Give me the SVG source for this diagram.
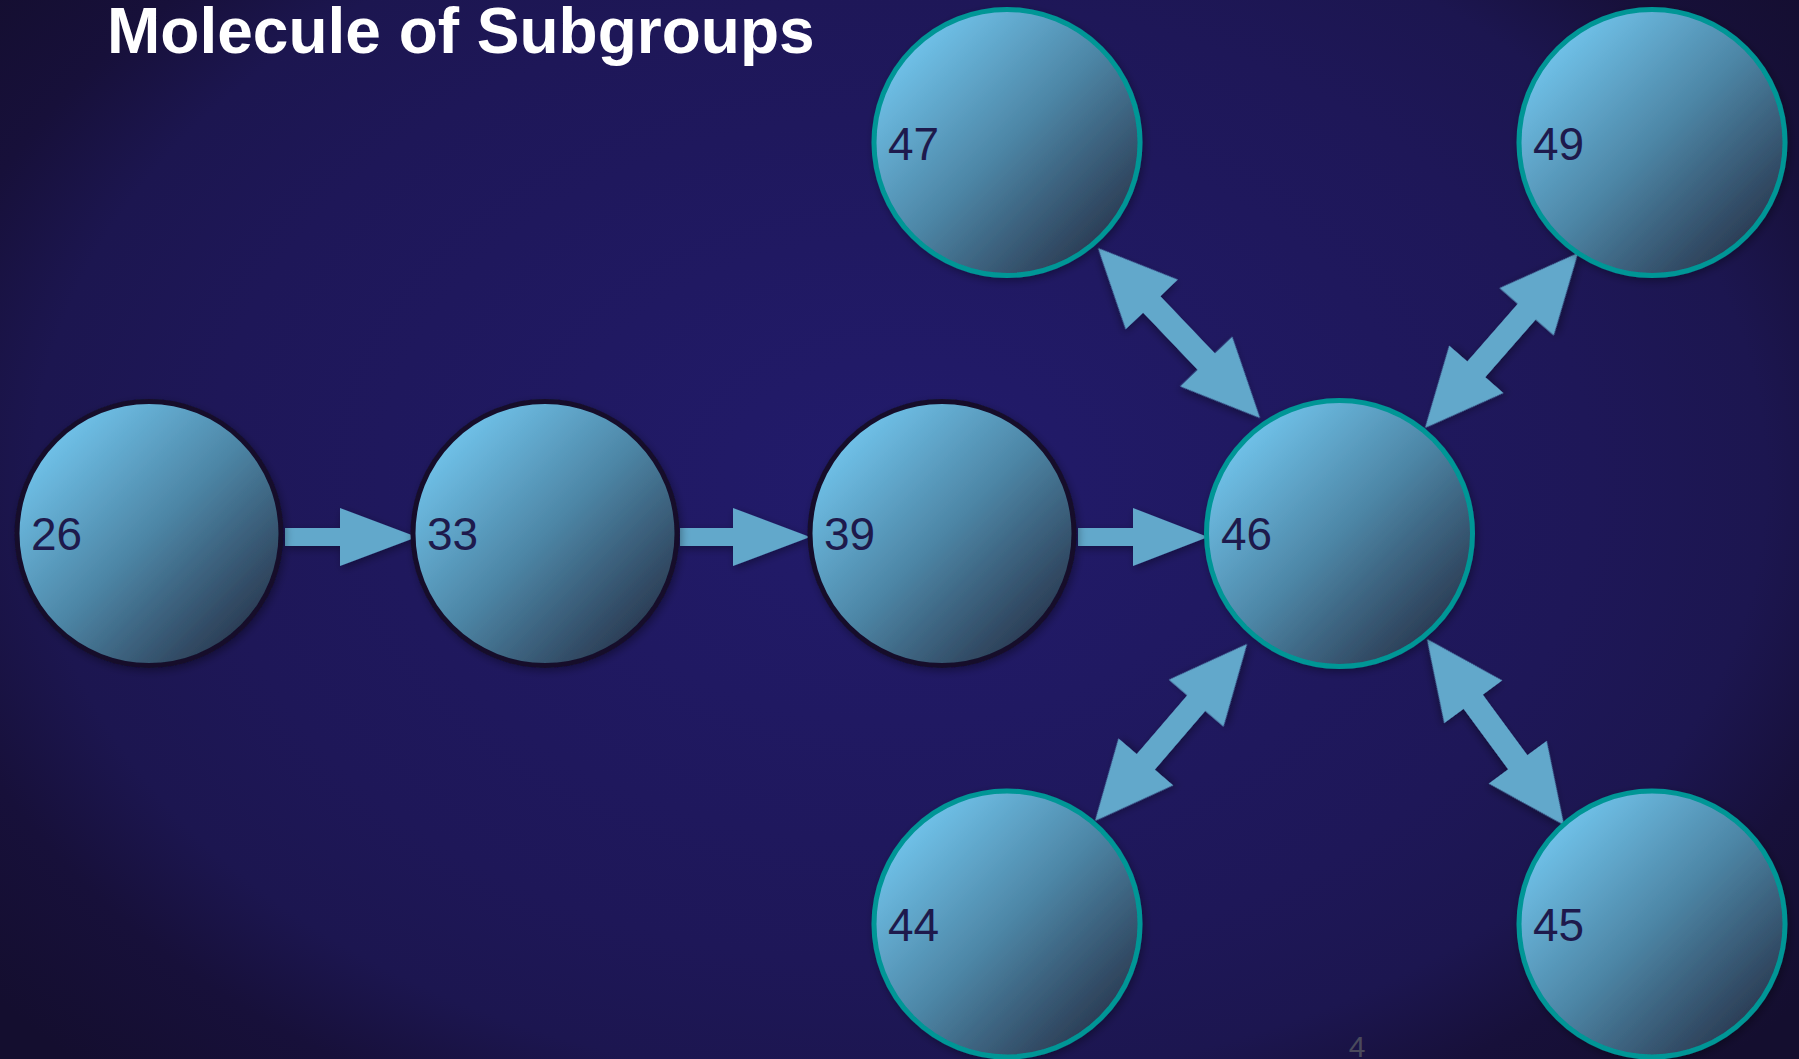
<svg xmlns="http://www.w3.org/2000/svg" width="1799" height="1059" viewBox="0 0 1799 1059">
  <defs>
    <radialGradient id="bg" cx="0" cy="0" r="1" gradientUnits="userSpaceOnUse" gradientTransform="translate(900,480) scale(1170,819)">
      <stop offset="0" stop-color="#221b6c"/>
      <stop offset="0.59" stop-color="#1e1758"/>
      <stop offset="0.74" stop-color="#1c1650"/>
      <stop offset="0.855" stop-color="#17103a"/>
      <stop offset="1" stop-color="#140e2f"/>
    </radialGradient>
    <linearGradient id="ball" x1="0" y1="0" x2="1" y2="1">
      <stop offset="0.1" stop-color="#74c8f0"/>
      <stop offset="0.5" stop-color="#4d86a6"/>
      <stop offset="0.95" stop-color="#222a40"/>
    </linearGradient>
    <filter id="sh" x="-20%" y="-20%" width="140%" height="140%">
      <feDropShadow dx="2" dy="3" stdDeviation="4" flood-color="#000" flood-opacity="0.35"/>
    </filter>
  </defs>
  <style>
    .node circle { fill: url(#ball); stroke-width: 5; filter: url(#sh); }
    .dark circle { stroke: #150f2b; }
    .teal circle { stroke: #009696; }
    .node text { font-family: "Liberation Sans", Arial, sans-serif; font-size: 46px; fill: #1e1a4c; }
    .arrow { fill: #62a8cb; filter: url(#sh); }
    .title { font-family: "Liberation Sans", Arial, sans-serif; font-weight: bold; font-size: 64px; fill: #ffffff; }
  </style>
  <rect x="0" y="0" width="1799" height="1059" fill="url(#bg)"/>
  <text class="title" x="107" y="53">Molecule of Subgroups</text>

  <g id="connectors">
    <polygon class="arrow" points="285,528 340,528 340,508 417,537 340,566 340,546 285,546"/>
    <polygon class="arrow" points="680,528 733,528 733,508 810,537 733,566 733,546 680,546"/>
    <polygon class="arrow" points="1078,528 1133,528 1133,508 1208,537 1133,566 1133,546 1078,546"/>
    <polygon class="arrow" transform="translate(1098,248) rotate(46.38)" points="0,0 78,-36 78,-12 156.8,-12 156.8,-36 234.8,0 156.8,36 156.8,12 78,12 78,36"/>
    <polygon class="arrow" transform="translate(1425,428) rotate(-48.84)" points="0,0 78,-36 78,-12 154.4,-12 154.4,-36 232.4,0 154.4,36 154.4,12 78,12 78,36"/>
    <polygon class="arrow" transform="translate(1095,821) rotate(-49.35)" points="0,0 78,-36 78,-12 155.3,-12 155.3,-36 233.3,0 155.3,36 155.3,12 78,12 78,36"/>
    <polygon class="arrow" transform="translate(1427,639) rotate(53.63)" points="0,0 78,-36 78,-12 153,-12 153,-36 231,0 153,36 153,12 78,12 78,36"/>
  </g>

  <g id="n26" class="node dark"><circle cx="149" cy="533.5" r="132"/><text x="31" y="550">26</text></g>
  <g id="n33" class="node dark"><circle cx="545" cy="533.5" r="132"/><text x="427" y="550">33</text></g>
  <g id="n39" class="node dark"><circle cx="942" cy="533.5" r="132"/><text x="824" y="550">39</text></g>
  <g id="n46" class="node teal"><circle cx="1339.5" cy="533.5" r="133"/><text x="1221" y="550">46</text></g>
  <g id="n47" class="node teal"><circle cx="1007" cy="142.5" r="133"/><text x="888" y="160">47</text></g>
  <g id="n49" class="node teal"><circle cx="1652" cy="142.5" r="133"/><text x="1533" y="160">49</text></g>
  <g id="n44" class="node teal"><circle cx="1007" cy="924" r="133"/><text x="888" y="941">44</text></g>
  <g id="n45" class="node teal"><circle cx="1652" cy="924" r="133"/><text x="1533" y="941">45</text></g>

  <text x="1357" y="1057" text-anchor="middle" font-family="Liberation Sans, Arial, sans-serif" font-size="30" fill="#4a4a5c">4</text>
</svg>
